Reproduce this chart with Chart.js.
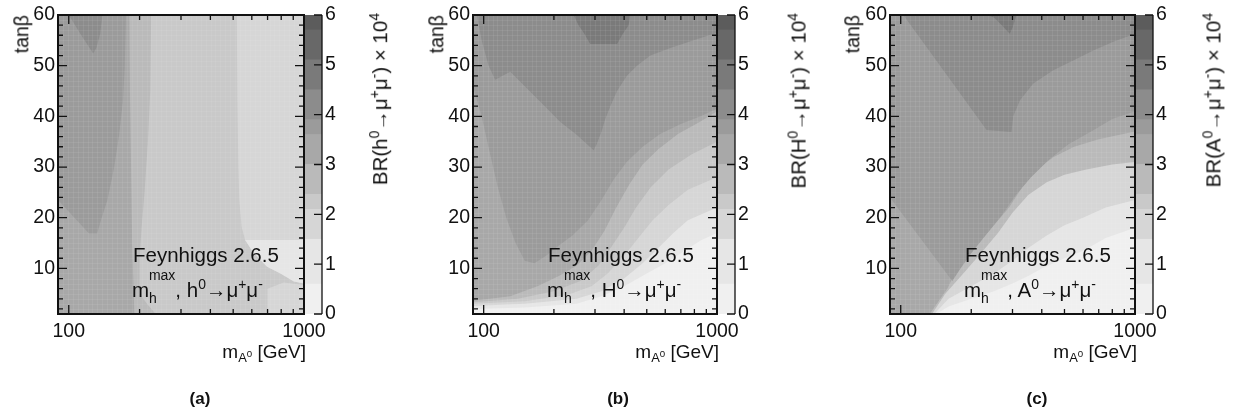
<!DOCTYPE html>
<html lang="en">
<head>
<meta charset="utf-8" />
<title>BR(h0, H0, A0 → μμ) in the mhmax scenario</title>
<script src="https://cdn.jsdelivr.net/npm/chart.js@4.4.1/dist/chart.umd.min.js"></script>
<style>
	html, body { margin: 0; background: #fff; }
	#page { position: relative; width: 1234px; height: 417px; overflow: hidden;
		font-family: "Liberation Sans", Arial, Helvetica, sans-serif; color: #111; }
	canvas { position: absolute; top: 0; }
	.lbl { position: absolute; font-size: 19px; line-height: 1; white-space: nowrap; }
	.big { font-size: 20.5px; }
	.lbl sup, .lbl sub, .rot sup { font-size: 0.68em; vertical-align: baseline; position: relative; }
	.lbl sup, .rot sup { top: -0.55em; }
	.lbl sub { top: 0.3em; }
	.lbl sub sup { top: -0.5em; font-size: 0.75em; }
	.rot { position: absolute; font-size: 20.5px; line-height: 20px; white-space: nowrap;
		transform-origin: 100% 0; transform: rotate(-90deg); }
	.rot.ax { font-size: 19.5px; }
	.lo { font-size: 14px; position: relative; top: 6px; }
	.hi { font-size: 14px; position: relative; top: -17px; margin-left: -8px; }
	.tag { position: absolute; top: 389px; width: 40px; margin-left: -20px; text-align: center;
		font: bold 17px "Liberation Sans Narrow", "Liberation Sans", Arial, sans-serif; }
</style>
</head>
<body>
<div id="page"></div>
<script>
	// axis ranges and tick labels
	const massRange = [90, 1000];
	const tanbRange = [1, 60];
	const massLabels = [100, 1000];
	const massMarks = [100, 200, 300, 400, 500, 600, 700, 800, 900, 1000];
	const tanbLabels = [10, 20, 30, 40, 50, 60];
	const brLabels = [0, 1, 2, 3, 4, 5, 6];
	const massBins = 50; // histogram cells along mA (log spaced), one per unit of tanβ

	// palette of the z scale (BR x 10^4)
	const brEdges = [0, 0.6, 1.5, 2.1, 2.4, 3.0, 3.6, 3.9, 4.5, 5.1, 5.7, 6];
	const brGrays = [240, 230, 214, 201, 186, 168, 155, 140, 122, 104, 92];

	// contour regions as [mA, tanβ] vertices; each one covers the area where BR >= its level
	// (a) h0
	const hFull = [[90, 1], [1000, 1], [1000, 60], [90, 60]];
	const hRight = [[518, 60], [1000, 60], [1000, 7], [906, 7.4], [794, 9], [697, 10.3], [651, 11.7],
		[600, 13.6], [562, 15.6], [543, 18.2], [531, 23.5], [526, 30], [521, 43]];
	const hLight = [[562, 15.6], [1000, 15.6], [1000, 7], [906, 7.4], [794, 9], [697, 10.3],
		[651, 11.7], [600, 13.6]];
	const hLowRight = [[700, 1], [1000, 1], [1000, 6.7], [820, 7.2], [700, 6]];
	const hStrip = [[90, 60], [224, 60], [222, 45], [217, 35], [210, 25], [204, 18], [200, 12],
		[200, 5], [215, 3], [234, 1], [90, 1]];
	const hLeft = [[90, 60], [181, 60], [182, 45], [184, 30], [186, 15], [190, 1], [90, 1]];
	const hTongue = [[90, 60], [175, 60], [173, 49.8], [170, 43.2], [164, 36.6], [156, 30],
		[146, 23.5], [137, 19.5], [132, 16.9], [122, 16.9], [90, 23.5]];
	const hTip = [[100, 60], [139, 60], [136, 56.3], [131, 53.5], [127, 52.4], [112, 56.3]];
	const levelsH = [[2.2, hFull], [1.8, hRight], [1.2, hLight], [1.8, hLowRight],
		[2.7, hStrip], [3.3, hLeft], [3.75, hTongue], [4.2, hTip]];

	// (b) H0
	const bigFull = [[90, 1], [1000, 1], [1000, 60], [90, 60]];
	const bigL1 = [[90, 2], [150, 2.3], [250, 3], [320, 4.5], [400, 6.5], [500, 9], [600, 11],
		[700, 13], [850, 15.5], [1000, 17], [1000, 60], [90, 60]];
	const bigL2 = [[90, 2.6], [150, 3], [250, 4], [320, 5.5], [400, 8], [480, 11], [560, 14],
		[650, 17], [750, 19.5], [1000, 22], [1000, 60], [90, 60]];
	const bigL3 = [[90, 3], [150, 3.5], [230, 4.8], [290, 6.5], [340, 9], [400, 12.5], [460, 16],
		[530, 19.5], [620, 22.5], [750, 25.5], [1000, 28], [1000, 60], [90, 60]];
	const bigL4 = [[90, 3.3], [140, 4], [200, 5.5], [260, 7.5], [310, 10.5], [350, 14], [400, 18],
		[450, 22], [520, 26], [620, 29.5], [780, 32.5], [1000, 35], [1000, 60], [90, 60]];
	const bigLow = [[90, 3.6], [130, 4.5], [170, 6.5], [210, 8.5], [250, 10.5], [290, 13.5],
		[330, 17.5], [370, 22], [420, 26.5], [480, 30.5], [560, 33.5], [680, 36.5], [850, 39],
		[1000, 41], [1000, 60], [90, 60]];
	const bigMid = [[90, 60], [90, 46], [98, 40], [106, 33], [115, 26], [125, 20], [137, 15],
		[150, 11.5], [165, 11], [185, 12.5], [210, 14.5], [240, 16.5], [280, 19.5], [320, 23.5],
		[360, 27.5], [410, 31], [480, 34], [570, 36.5], [700, 38.5], [850, 40], [1000, 41.5], [1000, 60]];
	const bigV = [[93.6, 60], [98, 55], [105, 50], [112, 47.2], [130, 48.8], [181, 42.2], [213, 38.9],
		[251, 36.3], [296, 33.3], [305, 34.5], [320, 37], [332, 39.5], [349, 42], [373, 45], [411, 48],
		[454, 50], [518, 52], [631, 53.5], [794, 55], [1000, 56.5], [1000, 60]];
	const bigCap = [[243, 60], [255, 58], [270, 56.3], [286, 54.3], [373, 54.3], [395, 56.3],
		[418, 58], [425, 60]];
	const levelsHeavy = [[0.3, bigFull], [1.0, bigL1], [1.8, bigL2], [2.2, bigL3], [2.7, bigL4],
		[3.3, bigLow], [3.75, bigMid], [4.2, bigV], [4.8, bigCap]];

	// (c) A0
	const aFull = [[90, 1], [1000, 1], [1000, 60], [90, 60]];
	const aL1 = [[90, 1], [142, 1], [160, 2.5], [200, 4], [250, 5.5], [300, 7], [350, 8.5], [400, 10],
		[500, 12], [600, 13.5], [750, 16], [1000, 18], [1000, 60], [90, 60]];
	const aL2 = [[90, 1], [139, 1], [160, 4], [200, 6.5], [250, 9], [300, 11.5], [350, 14], [420, 16.5],
		[500, 18.5], [600, 20], [750, 22], [1000, 23.5], [1000, 60], [90, 60]];
	const aL3 = [[90, 1], [136, 1], [155, 5], [185, 9], [220, 13], [260, 17], [300, 21], [350, 24.5],
		[420, 27], [500, 28.5], [620, 29.5], [800, 30.5], [1000, 31], [1000, 60], [90, 60]];
	const aLow = [[90, 1], [133, 1], [145, 3.5], [158, 6], [170, 9], [190, 12], [215, 15], [250, 18.5],
		[290, 22], [330, 26], [380, 29.5], [450, 32], [550, 34], [700, 35.5], [1000, 37], [1000, 60],
		[90, 60]];
	const aMid = [[90, 60], [90, 24], [166, 7.5], [180, 10], [200, 13], [230, 16.5], [270, 20.5],
		[310, 24.5], [360, 28], [430, 31.5], [520, 34.5], [650, 37], [800, 39.5], [1000, 41], [1000, 60]];
	const aV = [[102.6, 60], [232.6, 37.3], [297, 36.9], [302, 40], [323, 43.2], [368, 46.5],
		[448, 49.1], [545, 51], [664, 53], [808, 54.7], [1000, 56.3], [1000, 60]];
	const aCap = [[233, 60], [312, 60], [300, 57.5], [292, 56.3], [270, 58], [250, 59.5]];
	const levelsA = [[0.3, aFull], [1.0, aL1], [1.8, aL2], [2.7, aL3], [3.3, aLow], [3.75, aMid],
		[4.2, aV], [4.8, aCap]];

	const page = document.getElementById("page");
	const font = { family: '"Liberation Sans", Arial, sans-serif', size: 19.5 };
	const ink = "#111";
	const HEIGHT = 345, TOP = 15, BOTTOM = 314;

	function grayFor(br) {
		let i = 0;
		while (i < brGrays.length - 1 && br >= brEdges[i + 1]) i++;
		const g = brGrays[i];
		return "rgb(" + g + "," + g + "," + g + ")";
	}

	function addCanvas(left, width) {
		const c = document.createElement("canvas");
		c.width = width;
		c.height = HEIGHT;
		c.style.left = left + "px";
		page.appendChild(c);
		return c;
	}

	function addText(cls, html, style) {
		const d = document.createElement("div");
		d.className = cls;
		d.innerHTML = html;
		Object.assign(d.style, style);
		page.appendChild(d);
	}

	// faint cell edges of the 2D histogram, then frame and inward ticks on all sides
	const frameTicks = {
		id: "frameTicks",
		afterDatasetsDraw(chart) {
			const { ctx, chartArea: a, scales } = chart;
			const [m0, m1] = massRange;
			ctx.save();
			ctx.strokeStyle = "rgba(255,255,255,0.07)";
			ctx.lineWidth = 1;
			ctx.beginPath();
			for (let i = 1; i < massBins; i++) {
				const px = Math.round(scales.x.getPixelForValue(m0 * Math.pow(m1 / m0, i / massBins))) + 0.5;
				ctx.moveTo(px, a.top); ctx.lineTo(px, a.bottom);
			}
			for (let t = tanbRange[0] + 1; t < tanbRange[1]; t++) {
				const py = Math.round(scales.y.getPixelForValue(t)) + 0.5;
				ctx.moveTo(a.left, py); ctx.lineTo(a.right, py);
			}
			ctx.stroke();

			ctx.strokeStyle = ink;
			ctx.lineWidth = 1.3;
			ctx.beginPath();
			for (const m of massMarks) {
				const px = scales.x.getPixelForValue(m);
				const len = massLabels.includes(m) ? 9 : 5;
				ctx.moveTo(px, a.bottom); ctx.lineTo(px, a.bottom - len);
				ctx.moveTo(px, a.top); ctx.lineTo(px, a.top + len);
			}
			for (let t = 2; t <= tanbRange[1]; t += 2) {
				const py = scales.y.getPixelForValue(t);
				const len = t % 10 === 0 ? 9 : 5;
				ctx.moveTo(a.left, py); ctx.lineTo(a.left + len, py);
				ctx.moveTo(a.right, py); ctx.lineTo(a.right - len, py);
			}
			ctx.stroke();
			ctx.lineWidth = 2;
			ctx.strokeRect(a.left, a.top, a.right - a.left, a.bottom - a.top);
			ctx.restore();
		},
	};

	// right edge and inward ticks of the colour bar
	const barTicks = {
		id: "barTicks",
		afterDatasetsDraw(chart) {
			const { ctx, chartArea: a, scales } = chart;
			ctx.save();
			ctx.strokeStyle = ink;
			ctx.lineWidth = 1.3;
			ctx.beginPath();
			ctx.moveTo(a.right, a.top); ctx.lineTo(a.right, a.bottom);
			for (const v of brLabels) {
				const py = scales.y.getPixelForValue(v);
				ctx.moveTo(a.right, py); ctx.lineTo(a.right - 8, py);
			}
			ctx.stroke();
			ctx.restore();
		},
	};

	function drawMap(left, right, levels) {
		const canvas = addCanvas(left - 58, right - left + 58 + 32);
		// Chart.js paints the last dataset first, so the base level goes last
		const datasets = levels.map(([br, pts]) => ({
			data: pts.map(([x, y]) => ({ x, y })),
			showLine: true,
			fill: "shape",
			backgroundColor: grayFor(br),
			borderWidth: 0,
			pointRadius: 0,
			tension: 0,
		})).reverse();
		new Chart(canvas, {
			type: "scatter",
			data: { datasets },
			options: {
				responsive: false,
				animation: false,
				events: [],
				layout: { autoPadding: false, padding: { top: TOP, right: 32, left: 0, bottom: 0 } },
				plugins: { legend: { display: false }, tooltip: { enabled: false } },
				scales: {
					x: {
						type: "logarithmic",
						min: massRange[0],
						max: massRange[1],
						grid: { display: false, drawTicks: false },
						border: { display: false },
						ticks: { font, color: ink, padding: 6, maxRotation: 0, autoSkip: false,
							callback: (v) => String(v) },
						afterBuildTicks: (s) => { s.ticks = massLabels.map((v) => ({ value: v })); },
						afterFit: (s) => { s.height = HEIGHT - BOTTOM; },
					},
					y: {
						min: tanbRange[0],
						max: tanbRange[1],
						grid: { display: false, drawTicks: false },
						border: { display: false },
						ticks: { font, color: ink, padding: 3 },
						afterBuildTicks: (s) => { s.ticks = tanbLabels.map((v) => ({ value: v })); },
						afterFit: (s) => { s.width = 58; },
					},
				},
			},
			plugins: [frameTicks],
		});
	}

	function drawBar(left) {
		const canvas = addCanvas(left, 80);
		new Chart(canvas, {
			type: "bar",
			data: {
				labels: [""],
				datasets: brGrays.map((g, i) => ({
					data: [brEdges[i + 1] - brEdges[i]],
					backgroundColor: "rgb(" + g + "," + g + "," + g + ")",
					borderWidth: 0,
					barPercentage: 1,
					categoryPercentage: 1,
				})),
			},
			options: {
				responsive: false,
				animation: false,
				events: [],
				layout: { autoPadding: false, padding: { top: TOP, bottom: HEIGHT - BOTTOM, left: 0, right: 0 } },
				plugins: { legend: { display: false }, tooltip: { enabled: false } },
				scales: {
					x: { display: false, stacked: true },
					y: {
						position: "right",
						stacked: true,
						min: 0,
						max: 6,
						grid: { display: false, drawTicks: false },
						border: { display: false },
						ticks: { font, color: ink, padding: 3 },
						afterBuildTicks: (s) => { s.ticks = brLabels.map((v) => ({ value: v })); },
						afterFit: (s) => { s.width = 80 - 17; },
					},
				},
			},
			plugins: [barTicks],
		});
	}

	const panels = [
		{ left: 58, right: 304, levels: levelsH, boson: "h", tag: "(a)", tagX: 200, zTitle: 370, yTitle: 11.5 },
		{ left: 473, right: 717, levels: levelsHeavy, boson: "H", tag: "(b)", tagX: 618, zTitle: 789, yTitle: 426.5 },
		{ left: 890, right: 1135, levels: levelsA, boson: "A", tag: "(c)", tagX: 1037, zTitle: 1203, yTitle: 842 },
	];

	for (const p of panels) {
		drawMap(p.left, p.right, p.levels);
		drawBar(p.right + 1);
		addText("lbl big", "Feynhiggs 2.6.5", { left: p.left + 75 + "px", top: "245px" });
		addText("lbl big", 'm<span class="lo">h</span><span class="hi">max</span>, ' + p.boson +
			"<sup>0</sup>→μ<sup>+</sup>μ<sup>-</sup>", { left: p.left + 74 + "px", top: "280px" });
		addText("lbl", "m<sub>A<sup>0</sup></sub> [GeV]", { right: 1234 - p.right - 2 + "px", top: "342px" });
		addText("rot ax", "tanβ", { right: 1234 - p.yTitle + "px", top: "15px" });
		addText("rot", "BR(" + p.boson + "<sup>0</sup>→μ<sup>+</sup>μ<sup>-</sup>) × 10<sup>4</sup>",
			{ right: 1234 - p.zTitle + "px", top: "13px" });
		addText("tag", p.tag, { left: p.tagX + "px" });
	}
</script>
</body>
</html>
